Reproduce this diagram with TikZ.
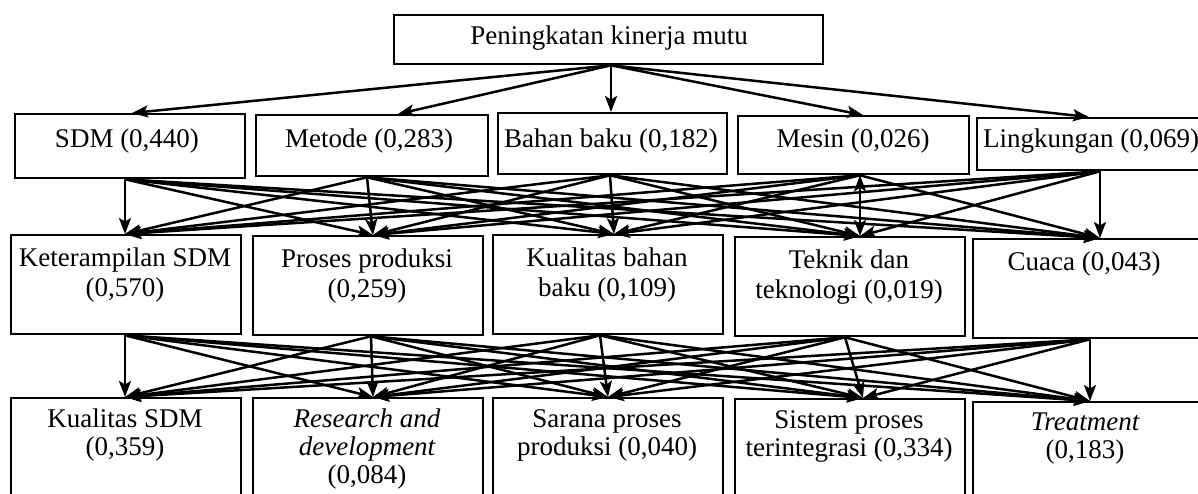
\documentclass[tikz,border=0pt]{standalone}
\usepackage{fontspec}
\setmainfont{Liberation Serif}
\usetikzlibrary{arrows.meta}
\begin{document}
\begin{tikzpicture}[x=1pt,y=-1pt,
  box/.style={draw, line width=2.3pt, rectangle, inner sep=0pt, anchor=north west},
  lbl/.style={font=\fontsize{27}{30}\selectfont, align=center, inner sep=0pt, anchor=north},
  lbltight/.style={lbl, font=\fontsize{27}{28}\selectfont},
  tip/.tip={Stealth[length=16pt,width=12pt,inset=3.5pt]},
  arr/.style={line width=2.5pt, -tip},
  biarr/.style={line width=2.5pt, tip-tip},
]
\clip (0,0) rectangle (1198,493);
% top box
\node[box, minimum width=429pt, minimum height=49pt] (top) at (393,14) {};
\node[lbl] (ttop) at (609,26) {Peningkatan kinerja mutu};
% row 1
\node[box, minimum width=230pt, minimum height=64pt] (sdm) at (14,113) {};
\node[box, minimum width=232pt, minimum height=61pt] (met) at (255,114) {};
\node[box, minimum width=229pt, minimum height=61pt] (bah) at (497,112) {};
\node[box, minimum width=231pt, minimum height=58pt] (mes) at (737,115) {};
\node[box, minimum width=250pt, minimum height=52pt] (lin) at (976,117) {};
\node[lbl] (tsdm) at (127,129) {SDM (0,440)};
\node[lbl] (tmet) at (369,129) {Metode (0,283)};
\node[lbl] (tbah) at (611,129) {Bahan baku (0,182)};
\node[lbl] (tmes) at (853,129) {Mesin (0,026)};
\node[lbl] (tlin) at (1091,129) {Lingkungan (0,069)};
% row 2
\node[box, minimum width=230pt, minimum height=99pt] (ket) at (10,234) {};
\node[box, minimum width=230pt, minimum height=99pt] (pro) at (252,235) {};
\node[box, minimum width=230pt, minimum height=99pt] (kua) at (492,234) {};
\node[box, minimum width=230pt, minimum height=99pt] (tek) at (734,236) {};
\node[box, minimum width=250pt, minimum height=99pt] (cua) at (972,238) {};
\node[lbl] (tket) at (125,248) {Keterampilan SDM\\(0,570)};
\node[lbl] (tpro) at (367,249) {Proses produksi\\(0,259)};
\node[lbl] (tkua) at (607,248) {Kualitas bahan\\baku (0,109)};
\node[lbl] (ttek) at (849,250) {Teknik dan\\teknologi (0,019)};
\node[lbl] (tcua) at (1084,252) {Cuaca (0,043)};
% row 3
\node[box, minimum width=230pt, minimum height=130pt] (ksd) at (10,397) {};
\node[box, minimum width=230pt, minimum height=130pt] (rnd) at (252,397) {};
\node[box, minimum width=230pt, minimum height=130pt] (sar) at (492,397) {};
\node[box, minimum width=230pt, minimum height=130pt] (sis) at (734,398) {};
\node[box, minimum width=250pt, minimum height=130pt] (tre) at (972,401) {};
\node[lbltight] (tksd) at (125,409) {Kualitas SDM\\(0,359)};
\node[lbltight] (trnd) at (367,409) {\itshape Research and\\\itshape development\\(0,084)};
\node[lbltight] (tsar) at (607,409) {Sarana proses\\produksi (0,040)};
\node[lbltight] (tsis) at (849,410) {Sistem proses\\terintegrasi (0,334)};
\node[lbltight] (ttre) at (1085,413) {\itshape Treatment\\(0,183)};
% anchor points
\coordinate (apex) at (top.south -| 611,0);
\coordinate (p1) at (sdm.north -| 132,0);
\coordinate (p2) at (met.north -| 398,0);
\coordinate (p3) at (bah.north -| 611,0);
\coordinate (p4) at (mes.north -| 863,0);
\coordinate (p5) at (lin.north -| 1089,0);
\coordinate (s1) at (sdm.south -| 125,0);
\coordinate (s2) at (met.south -| 367,0);
\coordinate (s3) at (bah.south -| 610,0);
\coordinate (s4) at (mes.south -| 860,0);
\coordinate (s5) at (lin.south -| 1100,0);
\coordinate (t1) at (ket.north -| 125,0);
\coordinate (t2) at (pro.north -| 373,0);
\coordinate (t3) at (kua.north -| 614,0);
\coordinate (t4) at (tek.north -| 860,0);
\coordinate (t5) at (cua.north -| 1100,0);
\coordinate (u1) at (ket.south -| 125,0);
\coordinate (u2) at (pro.south -| 371,0);
\coordinate (u3) at (kua.south -| 600,0);
\coordinate (u4) at (tek.south -| 845,0);
\coordinate (u5) at (cua.south -| 1090,0);
\coordinate (v1) at (ksd.north -| 125,0);
\coordinate (v2) at (rnd.north -| 373,0);
\coordinate (v3) at (sar.north -| 608,0);
\coordinate (v4) at (sis.north -| 863,0);
\coordinate (v5) at (tre.north -| 1090,0);
% connectors
\foreach \i in {1,...,5} \draw[arr] (apex) -- (p\i);
\foreach \i in {1,...,5}{
  \foreach \j in {1,...,5}{
    \ifnum\i=4 \ifnum\j=4 \else \draw[arr] (s\i) -- (t\j); \fi
    \else \draw[arr] (s\i) -- (t\j); \fi
  }
}
\draw[biarr] (s4) -- (t4);
\foreach \i in {1,...,5}{
  \foreach \j in {1,...,5}{
    \draw[arr] (u\i) -- (v\j);
  }
}
\end{tikzpicture}
\end{document}
